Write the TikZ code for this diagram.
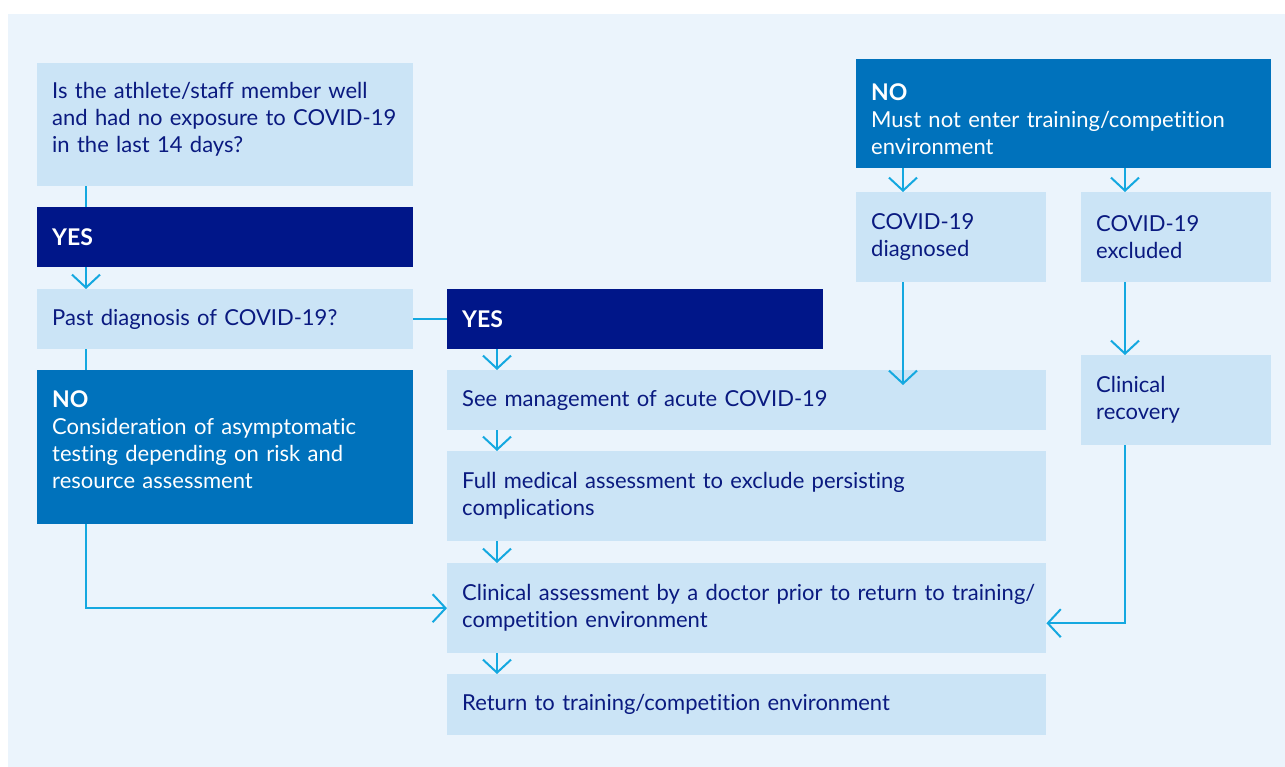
\documentclass[tikz,border=0pt]{standalone}
\usepackage{fontspec}
\setmainfont{Lato}[Ligatures=NoCommon]
\usetikzlibrary{arrows.meta}
\definecolor{bgblue}{HTML}{EBF4FC}
\definecolor{paleblue}{HTML}{CBE4F6}
\definecolor{navybox}{HTML}{001689}
\definecolor{midblue}{HTML}{0072BC}
\definecolor{navytext}{HTML}{0A1A80}
\definecolor{cyanline}{HTML}{14A8E0}
\tikzset{
    box/.style={anchor=north west, inner xsep=15pt, inner ysep=0pt, align=left, font=\fontsize{22}{27}\selectfont},
    lbox/.style={box, fill=paleblue, text=navytext},
    ybox/.style={box, fill=navybox, text=white, font=\fontsize{23}{27}\selectfont\bfseries},
    nbox/.style={box, fill=midblue, text=white},
    arr/.style={draw=cyanline, line width=2pt, -{Straight Barb[length=13pt, width=28pt, line width=2pt]}},
    link/.style={draw=cyanline, line width=2pt},
}
\newcommand{\lowpad}{\rule[-15pt]{0pt}{1pt}}
\newcommand{\highpad}{\rule{0pt}{27pt}}

\begin{document}
\begin{tikzpicture}[x=1pt, y=-1pt]
    \useasboundingbox (0,0) rectangle (1285,767);
    \fill[bgblue] (8,14) rectangle (1285,767);
    % columns of the arrows %
    \coordinate (c1) at (86,0);
    \coordinate (c2) at (497,0);
    \coordinate (c3) at (903,0);
    \coordinate (c4) at (1125,0);
    % left column %
    \node[lbox, text width=346pt, minimum height=123pt] (q) at (37,63)
        {Is the athlete/staff member well\\and had no exposure to COVID-19\\in the last 14 days?\lowpad};
    \node[ybox, text width=346pt, minimum height=60pt] (yes1) at (37,207) {YES};
    \node[lbox, text width=346pt, minimum height=60pt] (past) at (37,289) {Past diagnosis of COVID-19?};
    \node[nbox, text width=346pt, minimum height=154pt] (no1) at (37,370)
        {{\fontsize{23}{27}\selectfont\bfseries NO}\\Consideration of asymptomatic\\testing depending on risk and\\resource assessment\lowpad};
    % middle column %
    \node[ybox, text width=346pt, minimum height=60pt] (yes2) at (447,289) {YES};
    \node[lbox, text width=569pt, minimum height=60pt] (see) at (447,370) {See management of acute COVID-19};
    \node[lbox, text width=569pt, minimum height=90pt] (full) at (447,451)
        {Full medical assessment to exclude persisting\\complications};
    \node[lbox, text width=569pt, minimum height=90pt] (clin) at (447,563)
        {\mbox{Clinical assessment by a doctor prior to return to training/}\\competition environment};
    \node[lbox, text width=569pt, minimum height=61pt] (ret) at (447,674) {Return to training/competition environment};
    % right column %
    \node[nbox, text width=385pt, minimum height=109pt] (no2) at (856,59)
        {{\fontsize{23}{27}\selectfont\bfseries\highpad NO}\\Must not enter training/competition\\environment};
    \node[lbox, text width=160pt, minimum height=90pt] (diag) at (856,192) {COVID-19\\diagnosed};
    \node[lbox, text width=160pt, minimum height=90pt] (excl) at (1081,192) {COVID-19\\excluded};
    \node[lbox, text width=160pt, minimum height=90pt] (rec) at (1081,355) {Clinical\\recovery};
    % edges %
    \draw[link] (q.south -| c1) -- (yes1.north -| c1);
    \draw[arr] (yes1.south -| c1) -- (past.north -| c1);
    \draw[link] (past.south -| c1) -- (no1.north -| c1);
    \draw[link] (past) -- (yes2);
    \draw[arr] (yes2.south -| c2) -- (see.north -| c2);
    \draw[arr] (see.south -| c2) -- (full.north -| c2);
    \draw[arr] (full.south -| c2) -- (clin.north -| c2);
    \draw[arr] (clin.south -| c2) -- (ret.north -| c2);
    \draw[arr] (no1.south -| c1) |- (clin.west);
    \draw[arr] (no2.south -| c3) -- (diag.north -| c3);
    \draw[arr] (no2.south -| c4) -- (excl.north -| c4);
    \draw[arr, shorten >=-15pt] (diag.south -| c3) -- (see.north -| c3);
    \draw[arr] (excl.south -| c4) -- (rec.north -| c4);
    \draw[arr] (rec.south -| c4) |- ([yshift=-15pt]clin.east);
\end{tikzpicture}
\end{document}
